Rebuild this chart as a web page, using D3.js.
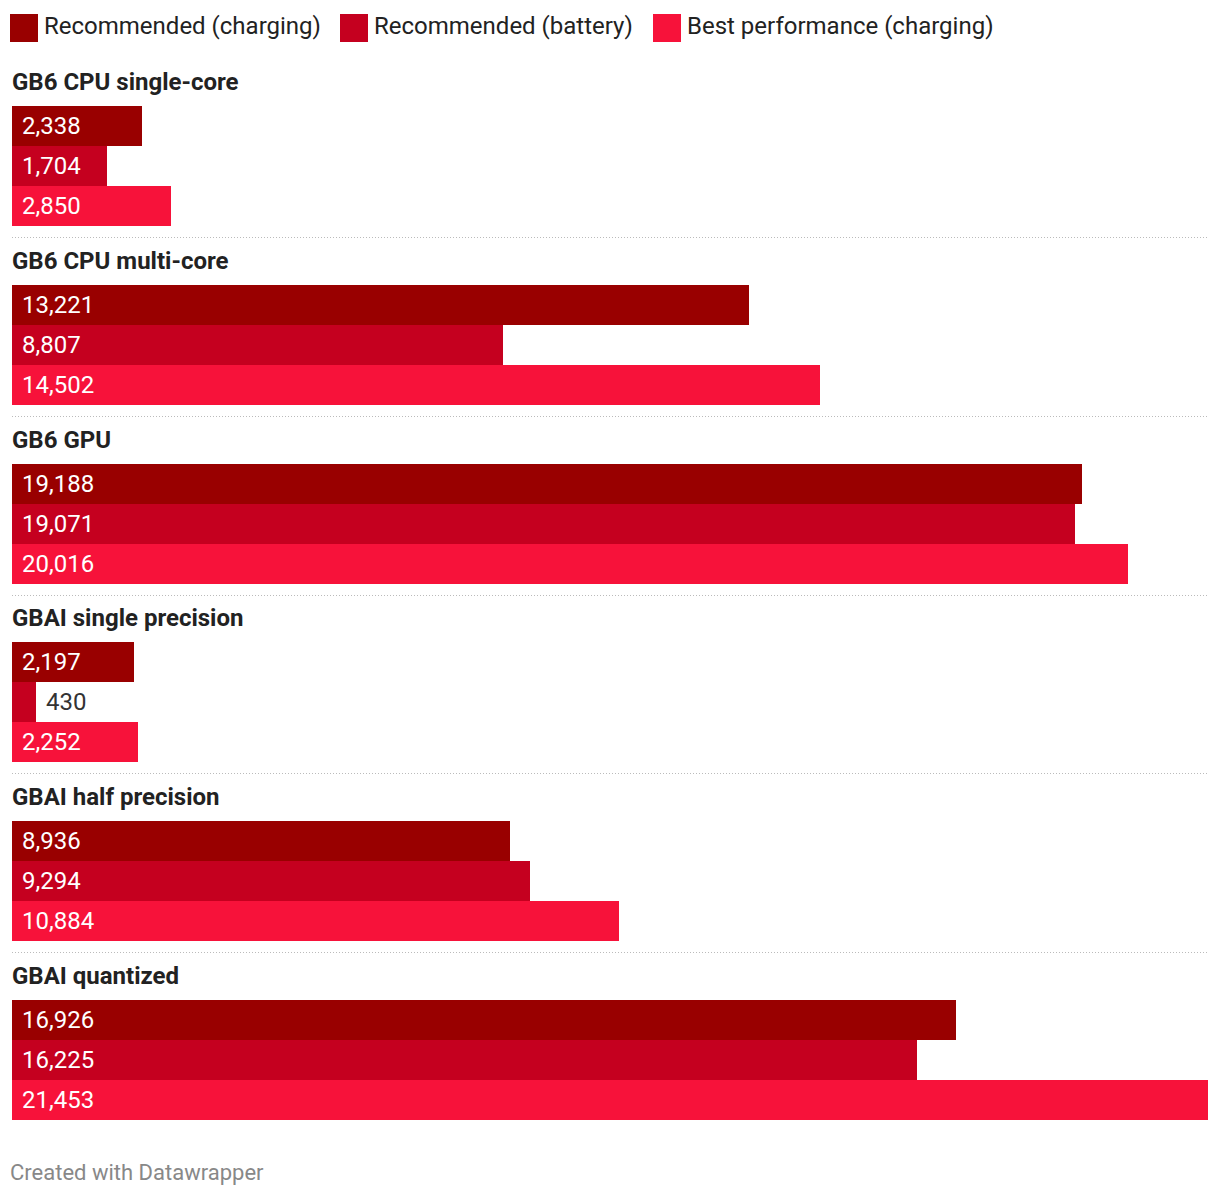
<!DOCTYPE html>
<html><head><meta charset="utf-8">
<script src="https://cdn.jsdelivr.net/npm/d3@7"></script>
<style>body{margin:0;background:#fff;font-family:Roboto,sans-serif;}</style>
</head><body>
<svg id="chart" width="1220" height="1196" shape-rendering="crispEdges"></svg>
<script>
const categories = ["GB6 CPU single-core","GB6 CPU multi-core","GB6 GPU","GBAI single precision","GBAI half precision","GBAI quantized"];
const seriesNames = ["Recommended (charging)","Recommended (battery)","Best performance (charging)"];
const recCharging = [2338,13221,19188,2197,8936,16926];
const recBattery = [1704,8807,19071,430,9294,16225];
const bestPerf = [2850,14502,20016,2252,10884,21453];
const colors = ["#990000","#c5001f","#f7123a"];

const svg = d3.select("#chart");
const series = [recCharging, recBattery, bestPerf];
const x = d3.scaleLinear().domain([0, 21453]).range([12, 1208]);
const groupY = d3.scaleLinear().domain([0, 5]).range([106, 1000]).interpolate(d3.interpolateRound);
const barY = d3.scaleBand().domain([0,1,2]).range([0,120]).padding(0);
const fmt = d3.format(",");

// legend
const legendX = [10, 340, 653];
const lg = svg.append("g");
seriesNames.forEach((n,i)=>{
  lg.append("rect").attr("x",legendX[i]).attr("y",14).attr("width",28).attr("height",28).attr("fill",colors[i]);
  lg.append("text").attr("x",legendX[i]+34).attr("y",34).attr("font-size",24).attr("fill","#222").text(n);
});

categories.forEach((c,gi)=>{
  const g = svg.append("g").attr("transform",`translate(0,${groupY(gi)})`);
  g.append("text").attr("x",12).attr("y",-16).attr("font-size",24).attr("font-weight","bold").attr("fill","#222").text(c);
  series.forEach((s,si)=>{
    const v = s[gi];
    const w = x(v)-x(0);
    g.append("rect").attr("x",x(0)).attr("y",barY(si)).attr("width",w).attr("height",barY.bandwidth()).attr("fill",colors[si]);
    const inside = w > 80;
    g.append("text").attr("x", inside ? x(0)+10 : x(v)+10).attr("y",barY(si)+barY.bandwidth()/2+7.5)
      .attr("font-size",24).attr("fill", inside ? "#fff" : "#333").text(fmt(v));
  });
  if (gi < categories.length-1) {
    g.append("line").attr("x1",12).attr("x2",1208).attr("y1",131.5).attr("y2",131.5)
      .attr("stroke","#bbb").attr("stroke-width",1).attr("stroke-dasharray","1,2");
  }
});

svg.append("text").attr("x",10).attr("y",1180).attr("font-size",22).attr("fill","#888").text("Created with Datawrapper");
</script>
</body></html>
